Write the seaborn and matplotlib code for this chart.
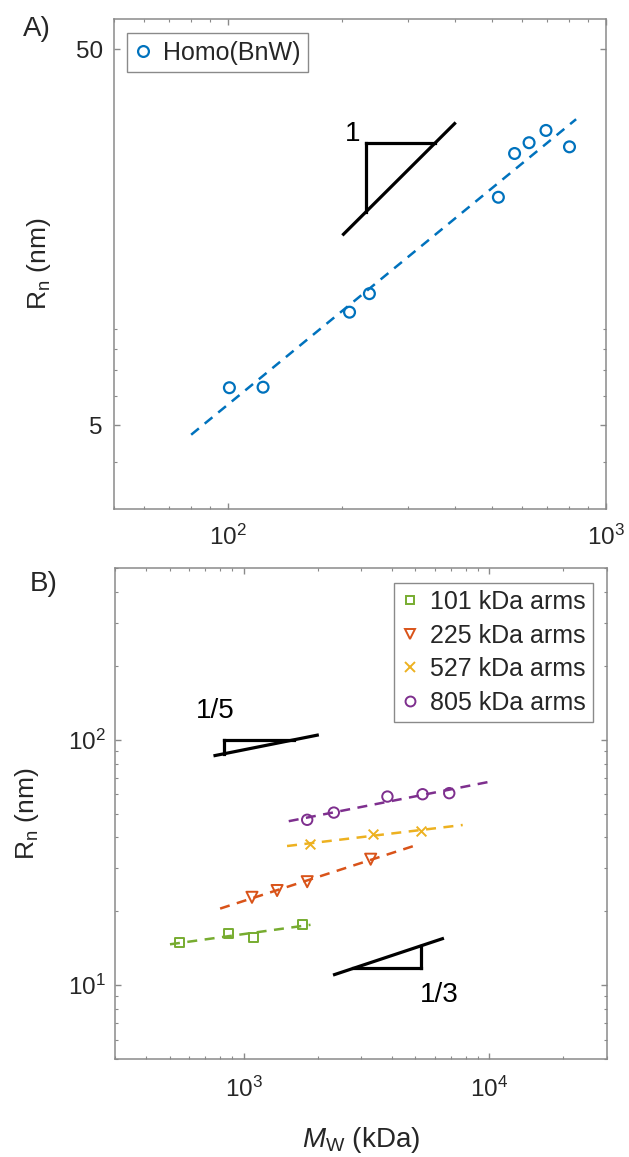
import numpy as np
import matplotlib
matplotlib.use("Agg")
import matplotlib.pyplot as plt
import seaborn as sns
from matplotlib.lines import Line2D
from matplotlib.ticker import (FixedLocator, FixedFormatter, NullFormatter,
                               LogLocator, LogFormatterSciNotation)

# ---------------- data: panel A ----------------
homo_label = "Homo(BnW)"
homo_mw = [101, 124, 210, 237, 520, 574, 627, 695, 802]
homo_rn = [6.30, 6.32, 10.0, 11.2, 20.2, 26.4, 28.2, 30.4, 27.5]
homo_fit_range = [80, 835]

# ---------------- data: panel B ----------------
star_labels = ["101 kDa arms", "225 kDa arms", "527 kDa arms", "805 kDa arms"]
star101_mw = [551, 869, 1098, 1731]
star101_rn = [14.9, 16.2, 15.7, 17.7]
star225_mw = [1082, 1369, 1815, 3289]
star225_rn = [22.8, 24.3, 26.4, 32.6]
star527_mw = [1860, 3375, 5262]
star527_rn = [37.6, 41.3, 42.5]
star805_mw = [1815, 2329, 3848, 5349, 6866]
star805_rn = [47.2, 50.5, 58.7, 60.0, 60.6]
star_fit_ranges = [[502, 1872], [803, 5022], [1503, 7787], [1527, 10000]]

# tick labels
a_yticks = [5, 50]
a_yticklabels = ["5", "50"]
a_yminor = [4, 6, 7, 8, 9]

# slope guides (annotation): line start x/end x, y at start, slope, corner, text
guides_A = [dict(x=[201, 401], y0=16.0, slope=1.0, corner=(232, 28.1),
                 text="1", text_pos=(214, 29.8))]
guides_B = [dict(x=[754.5, 2024], y0=86.0, slope=1 / 5, corner=(829, 100),
                 text="1/5", text_pos=(766, 131)),
            dict(x=[2312, 6533], y0=10.99, slope=1 / 3, corner=(5262, 11.7),
                 text="1/3", text_pos=(6252, 9.1))]

# ---------------- style ----------------
sns.set_theme(style="ticks")
plt.rcParams["font.family"] = ["Liberation Sans", "DejaVu Sans"]
plt.rcParams["mathtext.fontset"] = "custom"
plt.rcParams["mathtext.rm"] = "Liberation Sans"
plt.rcParams["mathtext.sf"] = "Liberation Sans"
plt.rcParams["mathtext.it"] = "Liberation Sans:italic"
plt.rcParams["mathtext.bf"] = "Liberation Sans:bold"

TXT = "#262626"
SPINE = "#8a8a8a"
blue = "#0072BD"
colors_B = ["#77AC30", "#D95319", "#EDB120", "#7E2F8E"]
markers_B = ["s", "v", "x", "o"]
msizes_B = [6.5, 8.0, 7.0, 7.5]
DASH = (0, (4, 3))

fig = plt.figure(figsize=(6.29, 11.57), dpi=100)
axA = fig.add_axes([114 / 629, 1 - 509 / 1157, 491.7 / 629, 489.7 / 1157])
axB = fig.add_axes([115 / 629, 1 - 1059 / 1157, 491.7 / 629, 490.7 / 1157])

for ax in (axA, axB):
    ax.set_xscale("log")
    ax.set_yscale("log")


def style_axes(ax, xpad, ypad):
    for s in ax.spines.values():
        s.set_color(SPINE)
        s.set_linewidth(1.1)
        s.set_visible(True)
    ax.tick_params(which="both", direction="in", top=True, right=True,
                   color=SPINE, labelcolor=TXT, labelsize=17.5)
    ax.tick_params(which="major", length=4, width=1.0)
    ax.tick_params(which="minor", length=2.5, width=0.8)
    ax.tick_params(axis="x", which="both", pad=xpad)
    ax.tick_params(axis="y", which="both", pad=ypad)
    ax.set_facecolor("white")


def draw_series(ax, mw, rn, fit_range, color, marker, ms, mew):
    lx, ly = np.log10(mw), np.log10(rn)
    coef = np.polyfit(lx, ly, 1)
    xs = np.logspace(np.log10(fit_range[0]), np.log10(fit_range[1]), 60)
    ys = 10 ** np.polyval(coef, np.log10(xs))
    sns.lineplot(x=xs, y=ys, ax=ax, color=color, linewidth=1.8,
                 linestyle=DASH, estimator=None, sort=False, legend=False)
    if marker == "x":
        sns.scatterplot(x=mw, y=rn, ax=ax, marker="x", s=ms ** 2,
                        color=color, linewidth=mew, legend=False, zorder=3)
    else:
        sns.scatterplot(x=mw, y=rn, ax=ax, marker=marker, s=ms ** 2,
                        color=color, facecolor="none", edgecolor=color,
                        linewidth=mew, legend=False, zorder=3)


def draw_guide(ax, g):
    x0, x1 = g["x"]
    y0, k = g["y0"], g["slope"]
    xs = np.array([x0, x1])
    ax.plot(xs, y0 * (xs / x0) ** k, color="black", lw=2.3,
            solid_capstyle="butt")
    cx, cy = g["corner"]
    y_on = y0 * (cx / x0) ** k
    x_on = x0 * (cy / y0) ** (1 / k)
    ax.plot([cx, cx], [cy, y_on], color="black", lw=2.3, solid_capstyle="projecting")
    ax.plot([cx, x_on], [cy, cy], color="black", lw=2.3, solid_capstyle="projecting")
    tx, ty = g["text_pos"]
    ax.text(tx, ty, g["text"], ha="center", va="center", fontsize=20,
            color="black")


# ---------------- panel A ----------------
draw_series(axA, homo_mw, homo_rn, homo_fit_range, blue, "o", 7.8, 1.6)
for g in guides_A:
    draw_guide(axA, g)
axA.set_xlim(50, 1000)
axA.set_ylim(3, 60)
axA.xaxis.set_major_locator(LogLocator(base=10))
axA.xaxis.set_major_formatter(LogFormatterSciNotation())
axA.xaxis.set_minor_locator(LogLocator(base=10, subs=np.arange(2, 10)))
axA.xaxis.set_minor_formatter(NullFormatter())
axA.yaxis.set_major_locator(FixedLocator(a_yticks))
axA.yaxis.set_major_formatter(FixedFormatter(a_yticklabels))
axA.yaxis.set_minor_locator(FixedLocator(a_yminor))
axA.yaxis.set_minor_formatter(NullFormatter())
style_axes(axA, xpad=11.5, ypad=8)
axA.set_xlabel("")
axA.set_ylabel(r"R$_\mathrm{n}$ (nm)", fontsize=19, color=TXT)
axA.yaxis.set_label_coords(-0.124, 0.5)

hA = [Line2D([], [], ls="none", marker="o", mfc="none", mec=blue, mew=1.6, ms=7.8)]
legA = axA.legend(hA, [homo_label], loc="upper left",
                  bbox_to_anchor=(0.0264, 0.972), fontsize=18, frameon=True,
                  fancybox=False, framealpha=1, edgecolor=SPINE,
                  borderpad=0.3, handlelength=0.7, handletextpad=0.45,
                  borderaxespad=0)
legA.get_frame().set_linewidth(1.0)
for t in legA.get_texts():
    t.set_color(TXT)

# ---------------- panel B ----------------
series_B = [(star101_mw, star101_rn), (star225_mw, star225_rn),
            (star527_mw, star527_rn), (star805_mw, star805_rn)]
for (mw, rn), fr, c, m, ms in zip(series_B, star_fit_ranges, colors_B,
                                   markers_B, msizes_B):
    draw_series(axB, mw, rn, fr, c, m, ms, 1.4)
for g in guides_B:
    draw_guide(axB, g)
axB.set_xlim(300, 30000)
axB.set_ylim(5, 500)
axB.xaxis.set_major_locator(LogLocator(base=10))
axB.xaxis.set_major_formatter(LogFormatterSciNotation())
axB.xaxis.set_minor_locator(LogLocator(base=10, subs=np.arange(2, 10)))
axB.xaxis.set_minor_formatter(NullFormatter())
axB.yaxis.set_major_locator(LogLocator(base=10))
axB.yaxis.set_major_formatter(LogFormatterSciNotation())
axB.yaxis.set_minor_locator(LogLocator(base=10, subs=np.arange(2, 10)))
axB.yaxis.set_minor_formatter(NullFormatter())
style_axes(axB, xpad=13, ypad=6.5)
axB.set_xlabel(r"$M_\mathrm{W}$ (kDa)", fontsize=20, color=TXT)
axB.xaxis.set_label_coords(0.5, -0.135)
axB.set_ylabel(r"R$_\mathrm{n}$ (nm)", fontsize=19, color=TXT)
axB.yaxis.set_label_coords(-0.15, 0.5)

hB = [Line2D([], [], ls="none", marker=m, mfc="none", mec=c, color=c,
             mew=1.4, ms=ms * 0.95)
      for m, c, ms in zip(markers_B, colors_B, msizes_B)]
legB = axB.legend(hB, star_labels, loc="upper right",
                  bbox_to_anchor=(0.9727, 0.9707), fontsize=18, frameon=True,
                  fancybox=False, framealpha=1, edgecolor=SPINE,
                  borderpad=0.3, handlelength=0.7, handletextpad=0.45,
                  labelspacing=0.38, borderaxespad=0)
legB.get_frame().set_linewidth(1.0)
for t in legB.get_texts():
    t.set_color(TXT)

fig.text(37 / 629, 1 - 29.5 / 1157, "A)", ha="center", va="center",
         fontsize=20, color=TXT)
fig.text(44 / 629, 1 - 584 / 1157, "B)", ha="center", va="center",
         fontsize=20, color=TXT)

fig.savefig("out.png", dpi=100, facecolor="white")
